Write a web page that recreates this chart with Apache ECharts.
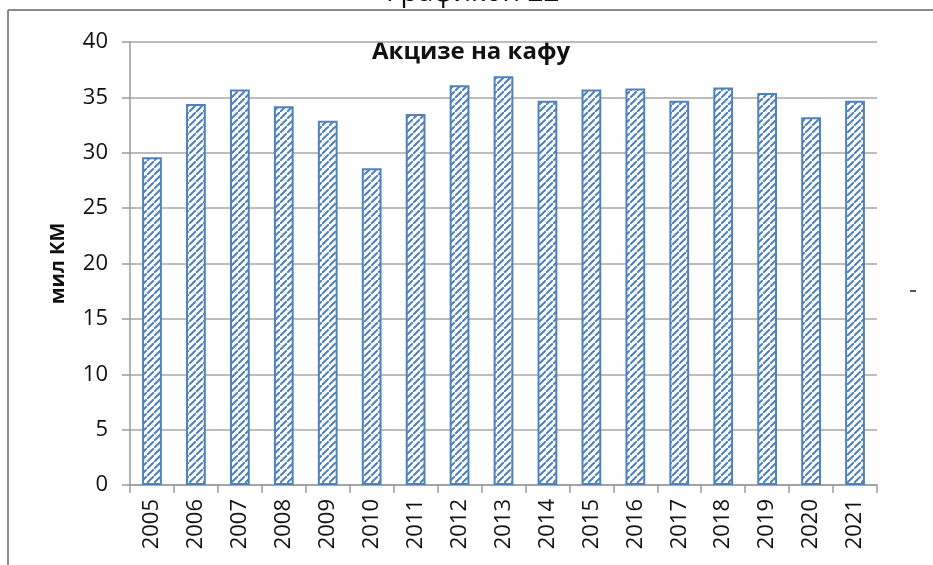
<!DOCTYPE html>
<html lang="sr">
<head>
    <meta charset="UTF-8">
    <title>Акцизе на кафу</title>
    <script type="text/javascript" src="https://cdn.jsdelivr.net/npm/echarts@6/dist/echarts.min.js"></script>
    <style>
        html, body { margin: 0; padding: 0; background: #fff; }
        #chart { width: 933px; height: 565px; }
    </style>
</head>
<body>
<div id="chart"></div>
<script type="text/javascript">
    // podaci
    var years = ['2005', '2006', '2007', '2008', '2009', '2010', '2011', '2012', '2013',
        '2014', '2015', '2016', '2017', '2018', '2019', '2020', '2021'];
    var akcize = [29.6, 34.4, 35.7, 34.2, 32.9, 28.6, 33.5, 36.1, 36.9,
        34.7, 35.7, 35.8, 34.7, 35.9, 35.4, 33.2, 34.7];

    // srafura za stubove
    function hatch() {
        var s = 7;
        var c = document.createElement('canvas');
        c.width = s; c.height = s;
        var g = c.getContext('2d');
        g.fillStyle = '#ffffff';
        g.fillRect(0, 0, s, s);
        g.strokeStyle = '#4f81bd';
        g.lineWidth = 2;
        g.beginPath();
        g.moveTo(-1, s + 1); g.lineTo(s + 1, -1);
        g.moveTo(-s - 1, 1); g.lineTo(1, -s - 1);
        g.moveTo(s - 1, 2 * s + 1); g.lineTo(2 * s + 1, s - 1);
        g.stroke();
        return c;
    }

    var font = 'Open Sans';
    var myChart = echarts.init(document.getElementById('chart'));
    var option = {
        animation: false,
        grid: { left: 130, right: 56, top: 42, bottom: 80 },
        graphic: [
            { type: 'line', shape: { x1: 8, y1: 10, x2: 933, y2: 10 }, style: { stroke: '#8a8a8a', lineWidth: 2 } },
            { type: 'line', shape: { x1: 8, y1: 10, x2: 8, y2: 565 }, style: { stroke: '#8a8a8a', lineWidth: 2 } },
            { type: 'text', left: 386, top: -21, style: { text: 'Графикон 22', fontSize: 28, fontFamily: font, fill: '#111' } },
            { type: 'text', left: 372, top: 40, style: { text: 'Акцизе на кафу', fontSize: 24, fontWeight: 'bold', fontFamily: font, fill: '#111' } },
            { type: 'line', shape: { x1: 910, y1: 291, x2: 916, y2: 291 }, style: { stroke: '#555', lineWidth: 2 } }
        ],
        xAxis: {
            type: 'category',
            data: years,
            axisLine: { lineStyle: { color: '#9a9a9a', width: 1.5 } },
            axisTick: { show: true, length: 8, lineStyle: { color: '#9a9a9a', width: 1.5 } },
            axisLabel: { rotate: 90, margin: 14, fontSize: 22, fontFamily: font, color: '#111' }
        },
        yAxis: {
            type: 'value',
            min: 0, max: 40, interval: 5,
            name: 'мил КМ',
            nameLocation: 'middle',
            nameGap: 62,
            nameTextStyle: { fontSize: 20, fontWeight: 'bold', fontFamily: font, color: '#111' },
            axisLine: { show: true, lineStyle: { color: '#9a9a9a', width: 1.5 } },
            axisTick: { show: true, length: 8, lineStyle: { color: '#9a9a9a', width: 1.5 } },
            splitLine: { lineStyle: { color: '#a6a6a6', width: 1.5 } },
            axisLabel: { margin: 22, fontSize: 22, fontFamily: font, color: '#111' }
        },
        series: [{
            name: 'Акцизе на кафу',
            type: 'bar',
            data: akcize,
            barWidth: '45%',
            itemStyle: {
                color: { image: hatch(), repeat: 'repeat' },
                borderColor: '#4f81bd',
                borderWidth: 2
            }
        }]
    };
    myChart.setOption(option);
</script>
</body>
</html>
